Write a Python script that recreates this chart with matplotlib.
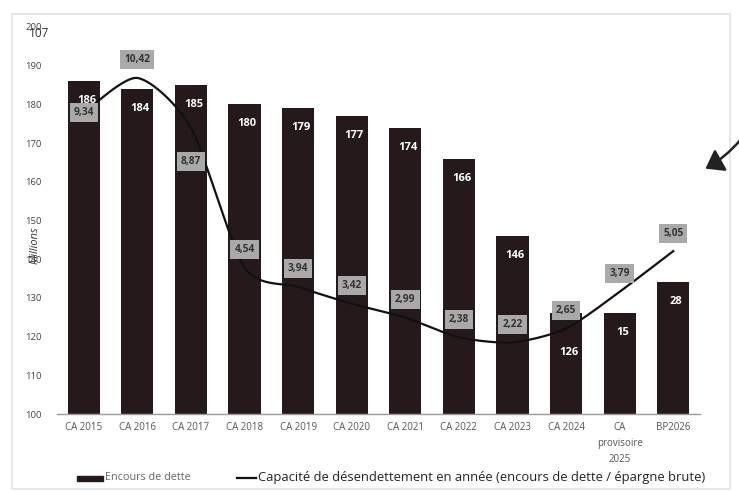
import numpy as np
import matplotlib
matplotlib.use("Agg")
import matplotlib.pyplot as plt
from matplotlib.patches import Rectangle, FancyArrowPatch
from matplotlib.lines import Line2D

categories = ["CA 2015", "CA 2016", "CA 2017", "CA 2018", "CA 2019", "CA 2020",
              "CA 2021", "CA 2022", "CA 2023", "CA 2024", "CA\nprovisoire\n2025", "BP2026"]
encours = [186, 184, 185, 180, 179, 177, 174, 166, 146, 126, 126, 134]
encours_labels = ["186", "184", "185", "180", "179", "177", "174", "166", "146", "126", "15", "28"]
capacite = [9.34, 10.42, 8.87, 4.54, 3.94, 3.42, 2.99, 2.38, 2.22, 2.65, 3.79, 5.05]
capacite_labels = ["9,34", "10,42", "8,87", "4,54", "3,94", "3,42", "2,99", "2,38", "2,22", "2,65", "3,79", "5,05"]
yticks = [100, 110, 120, 130, 140, 150, 160, 170, 180, 190, 200]

W, H = 739, 492
fig = plt.figure(figsize=(W / 100, H / 100), dpi=100)
plt.rcParams['font.family'] = ['Open Sans', 'DejaVu Sans']

def px(x0, y0, x1, y1):
    return [x0 / W, 1 - y1 / H, (x1 - x0) / W, (y1 - y0) / H]

# faint scan frame
frame = Rectangle((12 / W, 1 - 489 / H), (730 - 12) / W, (489 - 14) / H,
                  transform=fig.transFigure, fill=False, edgecolor="#e2e2e2", lw=1.2)
fig.add_artist(frame)

ax = fig.add_axes(px(57, 27, 700, 414))
x = np.arange(len(categories))
bar_color = "#241a1c"
ax.bar(x, [v - 100 for v in encours], bottom=100, width=0.6, color=bar_color, zorder=2)
ax.set_ylim(100, 200)
ax.set_xlim(-0.5, len(categories) - 0.5)
ax.set_yticks(yticks)
ax.set_yticklabels([str(t) for t in yticks], fontsize=6.8, color="#444444")
ax.set_xticks(x)
ax.set_xticklabels(categories, fontsize=7, color="#555555", linespacing=1.6)
ax.tick_params(axis="x", length=0, pad=6)
ax.tick_params(axis="y", length=0, pad=11)
for s in ["top", "right", "left"]:
    ax.spines[s].set_visible(False)
ax.spines["bottom"].set_color("#9a9a9a")
ax.spines["bottom"].set_linewidth(1.0)

# bar value labels
for i, (v, lab) in enumerate(zip(encours, encours_labels)):
    off = -14
    if i == 9:
        off = -28
    ax.annotate(lab, (i + 0.05, v), xytext=(0, off), textcoords="offset points",
                ha="center", va="center", color="white", fontsize=8, fontweight="bold", zorder=5)

# secondary axis for line
ax2 = ax.twinx()
ax2.set_ylim(0, 12)
ax2.axis("off")

# smooth curve (Bezier smoothing through data points)
pts = np.column_stack([x, capacite]).astype(float)
curve = []
n = len(pts)
k = 8.0
for i in range(n - 1):
    p0 = pts[i - 1] if i > 0 else pts[i]
    p1 = pts[i]
    p2 = pts[i + 1]
    p3 = pts[i + 2] if i + 2 < n else pts[i + 1]
    c1 = p1 + (p2 - p0) / k
    c2 = p2 - (p3 - p1) / k
    t = np.linspace(0, 1, 30)[:, None]
    seg = (1 - t) ** 3 * p1 + 3 * (1 - t) ** 2 * t * c1 + 3 * (1 - t) * t ** 2 * c2 + t ** 3 * p2
    curve.append(seg if i == 0 else seg[1:])
curve = np.vstack(curve)
ax2.plot(curve[:, 0], curve[:, 1], color="#111111", lw=1.6, zorder=4)

for i, (v, lab) in enumerate(zip(capacite, capacite_labels)):
    off = 13
    if i == 0:
        off = 0
    elif i == 2:
        off = -24
    ax2.annotate(lab, (i, v), xytext=(0, off), textcoords="offset points",
                 ha="center", va="center", color="#333333", fontsize=7.3, fontweight="bold",
                 bbox=dict(boxstyle="square,pad=0.4", fc="#a9a9a9", ec="none"), zorder=6)

# odd overlapping label at axis top and axis title
fig.text(29 / W, 1 - 33 / H, "107", fontsize=8.5, color="#333333", ha="left", va="center")
fig.text(35 / W, 1 - 245 / H, "Millions", fontsize=8, color="#333333", rotation=90,
         ha="center", va="center", style="italic")

# hand-drawn arrow
arr = FancyArrowPatch((742 / W, 1 - 138 / H), (703 / W, 1 - 170 / H), transform=fig.transFigure,
                      arrowstyle="-|>,head_length=7,head_width=5", mutation_scale=1.5,
                      color="#222222", lw=1.8, connectionstyle="arc3,rad=-0.1")
fig.add_artist(arr)

# legend
fig.add_artist(Rectangle((77 / W, 1 - 481 / H), 26 / W, 5 / H, transform=fig.transFigure,
                         color=bar_color))
fig.text(105 / W, 1 - 478 / H, "Encours de dette", fontsize=7.8, color="#666666", va="center")
fig.add_artist(Line2D([237 / W, 256 / W], [1 - 478 / H, 1 - 478 / H], transform=fig.transFigure,
                      color="#111111", lw=1.6))
fig.text(258 / W, 1 - 478 / H, "Capacité de désendettement en année (encours de dette / épargne brute)",
         fontsize=9.4, color="#222222", va="center")

fig.savefig("out.png", dpi=100)
